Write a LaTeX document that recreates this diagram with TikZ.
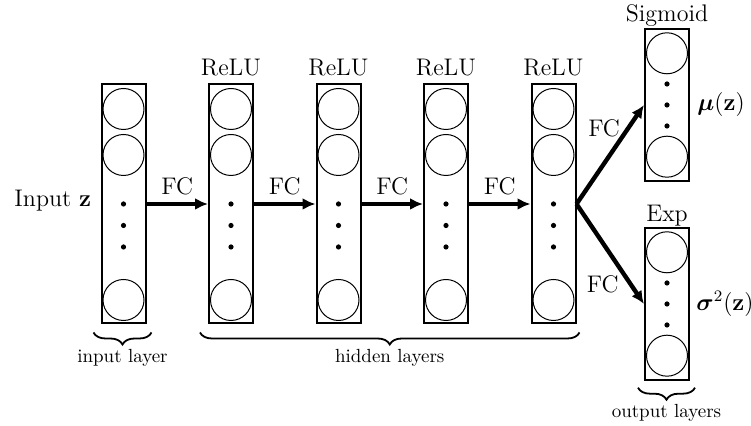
\documentclass[tikz,border=0pt]{standalone}
\usepackage{amsmath}
\usepackage{bm}
\usetikzlibrary{arrows.meta,decorations.pathreplacing}
\begin{document}
\begin{tikzpicture}[
  x=0.5pt, y=-0.5pt,
  font=\fontsize{12}{14}\selectfont,
  layerbox/.style={draw, line width=1pt, minimum width=22pt, minimum height=119.5pt, inner sep=0pt},
  outbox/.style={layerbox, minimum height=75.7pt},
  neuron/.style={circle, draw, line width=0.5pt, minimum size=20.5pt, inner sep=0pt},
  dotnode/.style={circle, fill, inner sep=0pt, minimum size=2.6pt},
  conn/.style={-{Latex[length=6.5pt,width=6pt]}, line width=2.2pt},
  bracedraw/.style={decorate, decoration={brace, mirror, amplitude=6pt}, line width=0.9pt},
  smalltext/.style={font=\fontsize{9.5}{11}\selectfont}
]
\useasboundingbox (0,0) rectangle (751,426);

% input layer and the four hidden layers
\foreach \n/\x in {in/123.5, h1/231, h2/338.5, h3/446, h4/553.5} {
  \node[layerbox] (\n) at (\x,204) {};
  \node[neuron] (\n-a) at (\x,109) {};
  \node[neuron] (\n-b) at (\x,155) {};
  \node[dotnode] (\n-d1) at (\x,204) {};
  \node[dotnode] (\n-d2) at (\x,225.5) {};
  \node[dotnode] (\n-d3) at (\x,247) {};
  \node[neuron] (\n-c) at (\x,300) {};
}

% the two output layers
\foreach \n/\y in {sig/105, ex/304} {
  \node[outbox] (\n) at (667,\y) {};
  \node[neuron] (\n-a) at (667,\y-51.7) {};
  \node[dotnode] (\n-d1) at (667,\y-21) {};
  \node[dotnode] (\n-d2) at (667,\y) {};
  \node[dotnode] (\n-d3) at (667,\y+21) {};
  \node[neuron] (\n-c) at (667,\y+51.7) {};
}

% activation labels
\foreach \n in {h1,h2,h3,h4}
  \node[anchor=base] (\n-lab) at ([yshift=4pt]\n.north) {ReLU};
\node[anchor=base] (sig-lab) at ([yshift=3.6pt]sig.north) {Sigmoid};
\node[anchor=base] (ex-lab) at ([yshift=2.8pt]ex.north) {Exp};

% input and output labels
\node[anchor=base east, inner sep=0pt] (inlab) at ([xshift=-4.5pt,yshift=-1.5pt]in.west) {Input $\mathbf{z}$};
\node[anchor=west, inner sep=0pt] (mulab) at ([xshift=3.5pt]sig.east) {$\bm{\mu}(\mathbf{z})$};
\node[anchor=west, inner sep=0pt] (sglab) at ([xshift=3pt]ex.east) {$\bm{\sigma}^2(\mathbf{z})$};

% fully connected links
\draw[conn] (in.east) -- (h1.west) node[midway, above] {FC};
\draw[conn] (h1.east) -- (h2.west) node[midway, above] {FC};
\draw[conn] (h2.east) -- (h3.west) node[midway, above] {FC};
\draw[conn] (h3.east) -- (h4.west) node[midway, above] {FC};
\draw[conn] (h4.east) -- (sig.west) node[pos=0.76, left=-0.5pt] {FC};
\draw[conn] (h4.east) -- (ex.west) node[pos=0.8, left=1.5pt] {FC};

% braces under the layer groups
\draw[bracedraw] ([xshift=-3.5pt,yshift=-4pt]in.south west) -- ([xshift=2.5pt,yshift=-4pt]in.south east)
  node[midway, anchor=base, yshift=-15pt, smalltext] {input layer};
\draw[bracedraw] ([xshift=-4pt,yshift=-4pt]h1.south west) -- ([xshift=1.5pt,yshift=-4pt]h4.south east)
  node[midway, anchor=base, yshift=-15pt, smalltext] {hidden layers};
\draw[bracedraw] ([xshift=-3pt,yshift=-3.5pt]ex.south west) -- ([xshift=2.5pt,yshift=-3.5pt]ex.south east)
  node[midway, anchor=base, yshift=-15pt, smalltext] {output layers};
\end{tikzpicture}
\end{document}
